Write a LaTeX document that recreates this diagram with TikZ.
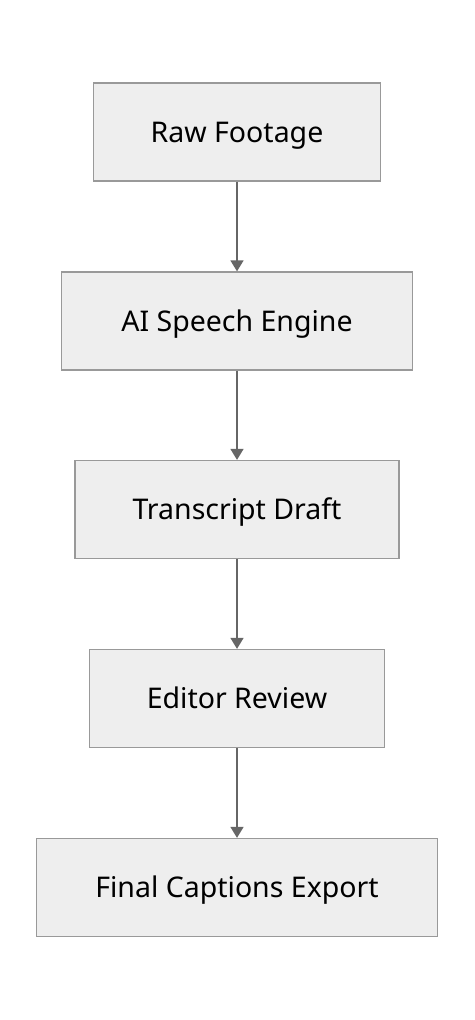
\documentclass[tikz,border=0pt]{standalone}
\usepackage{fontspec}
\setmainfont{Noto Sans}
\usetikzlibrary{arrows.meta}
\definecolor{boxfill}{HTML}{EEEEEE}
\definecolor{boxline}{HTML}{999999}
\definecolor{arrowc}{HTML}{666666}
\tikzset{
  flowbox/.style={draw=boxline, fill=boxfill, line width=1.3pt, inner sep=0pt, minimum height=98pt, text height=20pt, text depth=0pt, font=\fontsize{28.5pt}{34pt}\selectfont, text=black},
  flowarrow/.style={draw=arrowc, line width=1.6pt, -{Triangle[width=13pt,length=11pt]}}
}
\begin{document}
\begin{tikzpicture}[x=1pt,y=-1pt]
\useasboundingbox (0,0) rectangle (474,1020);
\node[flowbox, minimum width=287pt] (a) at (237,132) {Raw Footage};
\node[flowbox, minimum width=351pt] (b) at (237,321) {AI Speech Engine};
\node[flowbox, minimum width=324pt] (c) at (237,509.5) {Transcript Draft};
\node[flowbox, minimum width=295pt] (d) at (237,698.5) {Editor Review};
\node[flowbox, minimum width=401pt] (e) at (237,887.5) {Final Captions Export};
\draw[flowarrow] (a) -- (b);
\draw[flowarrow] (b) -- (c);
\draw[flowarrow] (c) -- (d);
\draw[flowarrow] (d) -- (e);
\end{tikzpicture}
\end{document}
